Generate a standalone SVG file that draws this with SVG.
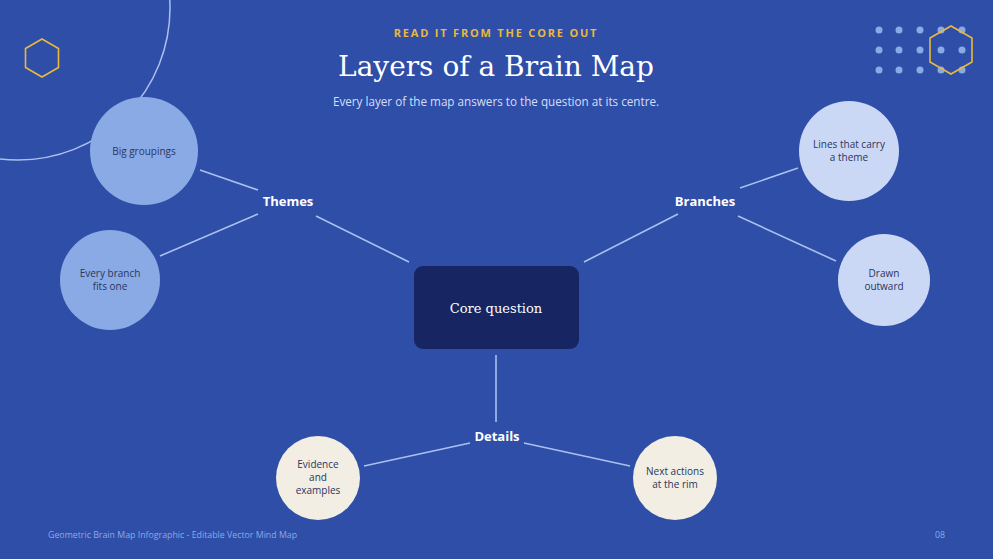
<svg xmlns="http://www.w3.org/2000/svg" width="993" height="559" viewBox="0 0 993 559">
<style>
.c{stroke:#a9c0f0;stroke-width:1.6;fill:none}
.lbl{font-family:"Open Sans","Noto Sans",sans-serif;font-weight:700;font-size:13px;fill:#fff;text-anchor:middle}
.nt{font-family:"Open Sans","Noto Sans",sans-serif;font-size:10px;fill:#2a3560;text-anchor:middle}
.dot{fill:#8aaae6}
.hex{fill:none;stroke:#e8b93c;stroke-width:1.6}
</style>
<rect width="993" height="559" fill="#2f4ea8"/>
<circle cx="18" cy="8" r="152" fill="none" stroke="#a9c0f0" stroke-width="1.5"/>
<polygon class="hex" points="42,39 58.5,48.5 58.5,67.5 42,77 25.5,67.5 25.5,48.5"/>
<g>
<circle class="dot" cx="879" cy="30" r="3.5"/><circle class="dot" cx="899" cy="30" r="3.5"/><circle class="dot" cx="920" cy="30" r="3.5"/><circle class="dot" cx="941" cy="30" r="3.5"/><circle class="dot" cx="962" cy="30" r="3.5"/>
<circle class="dot" cx="879" cy="50" r="3.5"/><circle class="dot" cx="899" cy="50" r="3.5"/><circle class="dot" cx="920" cy="50" r="3.5"/><circle class="dot" cx="941" cy="50" r="3.5"/><circle class="dot" cx="962" cy="50" r="3.5"/>
<circle class="dot" cx="879" cy="70" r="3.5"/><circle class="dot" cx="899" cy="70" r="3.5"/><circle class="dot" cx="920" cy="70" r="3.5"/><circle class="dot" cx="941" cy="70" r="3.5"/><circle class="dot" cx="962" cy="70" r="3.5"/>
</g>
<polygon class="hex" points="951,26 972,38 972,62 951,74 930,62 930,38"/>
<text x="496" y="37" text-anchor="middle" font-family="'Open Sans','Noto Sans',sans-serif" font-weight="700" font-size="11" letter-spacing="1.8" fill="#e8b93c">READ IT FROM THE CORE OUT</text>
<text x="496" y="76" text-anchor="middle" font-family="'DejaVu Serif',serif" font-size="28" fill="#fff">Layers of a Brain Map</text>
<text x="496" y="106" text-anchor="middle" font-family="'Open Sans','Noto Sans',sans-serif" font-size="11.7" fill="#d4def6">Every layer of the map answers to the question at its centre.</text>
<g id="connectors">
<line class="c" x1="409" y1="262" x2="316" y2="216"/>
<line class="c" x1="258" y1="190" x2="200" y2="170"/>
<line class="c" x1="258" y1="214" x2="160" y2="256"/>
<line class="c" x1="584" y1="262" x2="678" y2="214"/>
<line class="c" x1="740" y1="188" x2="798" y2="168"/>
<line class="c" x1="738" y1="216" x2="836" y2="261"/>
<line class="c" x1="496" y1="355" x2="496" y2="422"/>
<line class="c" x1="470" y1="443" x2="364" y2="466"/>
<line class="c" x1="524" y1="443" x2="630" y2="466"/>
</g>
<g id="core"><rect x="414" y="266" width="165" height="83" rx="9" fill="#172663"/><text x="496" y="313" text-anchor="middle" font-family="'DejaVu Serif',serif" font-size="13" fill="#fff">Core question</text></g>
<g id="themes"><text class="lbl" x="288" y="206">Themes</text></g>
<g id="branches"><text class="lbl" x="705" y="206">Branches</text></g>
<g id="details"><text class="lbl" x="497" y="441">Details</text></g>
<g id="n1"><circle cx="144" cy="151" r="54" fill="#8aaae6"/><text class="nt" x="144" y="155">Big groupings</text></g>
<g id="n2"><circle cx="110" cy="280" r="50" fill="#8aaae6"/><text class="nt" x="110" y="277">Every branch</text><text class="nt" x="110" y="290">fits one</text></g>
<g id="n3"><circle cx="849" cy="151" r="50" fill="#cad8f5"/><text class="nt" x="849" y="148">Lines that carry</text><text class="nt" x="849" y="161">a theme</text></g>
<g id="n4"><circle cx="884" cy="280" r="46" fill="#cad8f5"/><text class="nt" x="884" y="277">Drawn</text><text class="nt" x="884" y="290">outward</text></g>
<g id="n5"><circle cx="318" cy="478" r="42" fill="#f2eee3"/><text class="nt" x="318" y="468">Evidence</text><text class="nt" x="318" y="481">and</text><text class="nt" x="318" y="494">examples</text></g>
<g id="n6"><circle cx="675" cy="478" r="42" fill="#f2eee3"/><text class="nt" x="675" y="475">Next actions</text><text class="nt" x="675" y="488">at the rim</text></g>
<text x="48" y="538" font-family="'Open Sans','Noto Sans',sans-serif" font-size="8.8" fill="#8aaae6">Geometric Brain Map Infographic - Editable Vector Mind Map</text>
<text x="945" y="538" text-anchor="end" font-family="'Open Sans','Noto Sans',sans-serif" font-size="8.8" fill="#8aaae6">08</text>
</svg>
